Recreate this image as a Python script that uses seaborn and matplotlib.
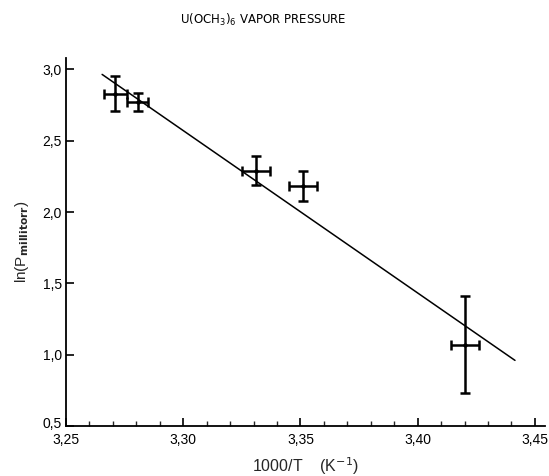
import matplotlib
matplotlib.use("Agg")
import matplotlib.pyplot as plt
import matplotlib.transforms as mtransforms
import seaborn as sns
import numpy as np
import pandas as pd
from matplotlib.ticker import FuncFormatter, MultipleLocator

# Data
inv_T = [3.271, 3.2805, 3.331, 3.351, 3.420]
ln_p = [2.83, 2.77, 2.29, 2.185, 1.07]
x_err = [0.005, 0.0045, 0.006, 0.006, 0.006]
y_err = [0.125, 0.065, 0.10, 0.105, 0.34]
fit_x = [3.2654, 3.4415]
fit_y = [2.965, 0.96]
x_ticks = [3.25, 3.30, 3.35, 3.40, 3.45]
y_ticks = [0.5, 1.0, 1.5, 2.0, 2.5, 3.0]

sns.set_style("ticks")
plt.rcParams['font.family'] = ['Liberation Sans', 'DejaVu Sans']

fig = plt.figure(figsize=(5.49, 4.76), dpi=100)
ax = fig.add_axes([66/549, 1-426/476, (545-66)/549, (426-58)/476])

pts = pd.DataFrame({"x": inv_T, "y": ln_p})
fit = pd.DataFrame({"x": fit_x, "y": fit_y})

sns.lineplot(data=fit, x="x", y="y", ax=ax, color="black", linewidth=1.1)
ax.errorbar(inv_T, ln_p, xerr=x_err, yerr=y_err, fmt="none", ecolor="black",
            elinewidth=1.8, capsize=3.8, capthick=1.8)
sns.scatterplot(data=pts, x="x", y="y", ax=ax, color="black", s=8, edgecolor="black")

ax.set_xlim(3.25, 3.4543)
ax.set_ylim(0.5, 3.08)
ax.xaxis.set_minor_locator(MultipleLocator(0.01))
ax.set_xticks(x_ticks)
ax.set_yticks(y_ticks)

comma = FuncFormatter(lambda v, p: f"{v:.2f}".replace(".", ","))
comma_y = FuncFormatter(lambda v, p: f"{v:.1f}".replace(".", ","))
ax.xaxis.set_major_formatter(comma)
ax.yaxis.set_major_formatter(comma_y)

ax.tick_params(axis="both", which="major", direction="in", length=6, width=1.2,
               labelsize=10, colors="black")
ax.tick_params(axis="x", which="minor", direction="in", length=3.5, width=1.0)
ax.tick_params(axis="x", pad=5)
ax.tick_params(axis="y", pad=3)

fig.canvas.draw()
lbl = ax.get_yticklabels()[0]
lbl.set_transform(lbl.get_transform() + mtransforms.ScaledTranslation(0, 3/100, fig.dpi_scale_trans))

for s in ["top", "right"]:
    ax.spines[s].set_visible(False)
for s in ["left", "bottom"]:
    ax.spines[s].set_linewidth(1.3)
    ax.spines[s].set_color("black")

ax.set_xlabel(r"1000/T    (K$^{-1}$)", fontsize=11.5, labelpad=6)
ax.set_ylabel(r"ln(P$_{\mathbf{millitorr}}$)", fontsize=11, labelpad=8)

fig.text(263/549, 1-20/476, r"U(OCH$_3$)$_6$ VAPOR PRESSURE", ha="center", va="center",
         fontsize=8.5, family=["DejaVu Sans"], color="black")

fig.savefig("out.png", dpi=100)
